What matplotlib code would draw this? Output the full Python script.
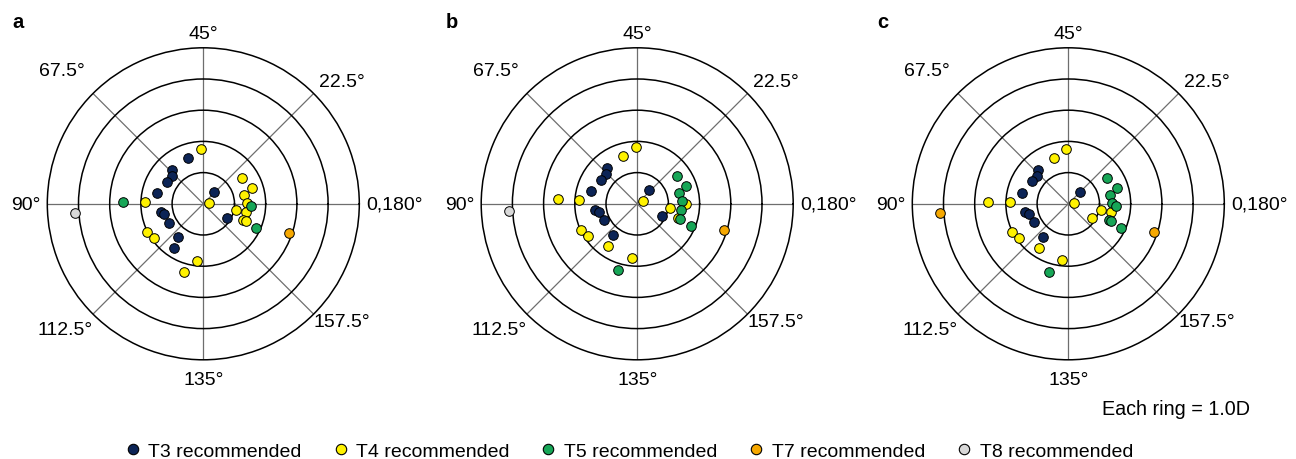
import numpy as np
import matplotlib
matplotlib.use("Agg")
import matplotlib.pyplot as plt
from matplotlib.lines import Line2D

plt.rcParams['font.family'] = ['Liberation Sans', 'DejaVu Sans']

# astigmatism vectors on the double-angle plot, (x, y) components in D
# panel a
a_t3 = [(-0.48, 1.46), (-1.00, 1.08), (-1.01, 0.88), (-1.16, 0.71), (-1.49, 0.36),
        (-1.37, -0.26), (-1.26, -0.32), (-1.09, -0.60), (-0.81, -1.05), (-0.95, -1.42),
        (0.35, 0.38), (0.77, -0.47)]
a_t4 = [(-0.06, 1.76), (-1.87, 0.05), (-1.82, -0.90), (-1.59, -1.09), (-0.19, -1.82),
        (-0.62, -2.20), (0.19, 0.02), (1.23, 0.83), (1.56, 0.50), (1.32, 0.27),
        (1.41, 0.04), (1.05, -0.20), (1.37, -0.26), (1.28, -0.52), (1.36, -0.56)]
a_t5 = [(-2.57, 0.06), (1.53, -0.07), (1.70, -0.77)]
a_t7 = [(2.76, -0.92)]
a_t8 = [(-4.11, -0.31)]

# panel b
b_t3 = [(-0.97, 1.16), (-0.99, 0.96), (-1.15, 0.77), (-1.47, 0.42), (-1.36, -0.19),
        (-1.24, -0.26), (-1.08, -0.53), (-0.79, -0.99), (0.38, 0.44), (0.79, -0.40)]
b_t4 = [(-0.05, 1.82), (-0.46, 1.53), (-2.55, 0.14), (-1.85, 0.11), (-1.80, -0.83),
        (-1.58, -1.02), (-0.93, -1.35), (-0.17, -1.74), (0.19, 0.08), (1.06, -0.13),
        (1.57, -0.01), (1.30, -0.47)]
b_t5 = [(1.26, 0.89), (1.58, 0.56), (1.34, 0.34), (1.42, 0.10), (1.39, -0.19),
        (1.38, -0.50), (1.71, -0.71), (-0.61, -2.13)]
b_t7 = [(2.77, -0.84)]
b_t8 = [(-4.10, -0.24)]

# panel c
c_t3 = [(-0.98, 1.09), (-1.01, 0.89), (-1.16, 0.72), (-1.48, 0.36), (-1.38, -0.25),
        (-1.25, -0.32), (-1.10, -0.59), (-0.81, -1.06), (0.37, 0.39)]
c_t4 = [(-0.06, 1.76), (-0.47, 1.46), (-2.57, 0.07), (-1.86, 0.05), (-1.82, -0.90),
        (-1.58, -1.09), (-0.94, -1.41), (-0.19, -1.81), (0.17, 0.03), (0.76, -0.46),
        (1.05, -0.20), (1.38, -0.25)]
c_t5 = [(1.25, 0.84), (1.57, 0.50), (1.33, 0.28), (1.41, 0.04), (1.54, -0.06),
        (1.30, -0.51), (1.37, -0.56), (1.70, -0.77), (-0.61, -2.20)]
c_t7 = [(-4.12, -0.31), (2.76, -0.91)]
c_t8 = []

groups = ['T3 recommended', 'T4 recommended', 'T5 recommended',
          'T7 recommended', 'T8 recommended']
colors = ['#0c2456', '#fff200', '#17a657', '#f6a800', '#d8d8d8']
axis_labels = ['0,180°', '22.5°', '45°', '67.5°', '90°', '112.5°', '135°', '157.5°']
panels = [('a', [a_t3, a_t4, a_t5, a_t7, a_t8]),
          ('b', [b_t3, b_t4, b_t5, b_t7, b_t8]),
          ('c', [c_t3, c_t4, c_t5, c_t7, c_t8])]

W, H = 1296, 460
fig = plt.figure(figsize=(W / 100, H / 100), dpi=100)

centers_x = [203.3, 637.2, 1068.3]
center_y = 204.8
R = 156.0
# label centre offsets in pixels from the plot centre
lab_off = [(191, 0), (139, 122), (0, 170), (-141, 133),
           (-177, -1), (-138, -126), (0, -176), (139, -118)]

for (letter, data), cx in zip(panels, centers_x):
    ax = fig.add_axes([(cx - R) / W, (H - center_y - R) / H, 2 * R / W, 2 * R / H],
                      projection='polar')
    ax.set_ylim(0, 5)
    ax.set_xticks(np.deg2rad(np.arange(0, 360, 45)))
    ax.set_xticklabels([])
    ax.set_yticks([1, 2, 3, 4])
    ax.set_yticklabels([])
    ax.xaxis.grid(True, color='#6e6e6e', lw=0.9)
    ax.yaxis.grid(True, color='black', lw=1.1)
    ax.spines['polar'].set_color('black')
    ax.spines['polar'].set_linewidth(1.1)
    ax.tick_params(length=0)

    for pts, col in zip(data, colors):
        if not pts:
            continue
        xy = np.array(pts)
        theta = np.arctan2(xy[:, 1], xy[:, 0])
        r = np.hypot(xy[:, 0], xy[:, 1])
        ax.scatter(theta, r, s=48, c=col, edgecolors='black', linewidths=0.7,
                   zorder=3, clip_on=False)

    for lab, (dx, dy) in zip(axis_labels, lab_off):
        ax.annotate(lab, xy=(0, 0), xytext=(dx, dy), textcoords='offset pixels',
                    ha='center', va='center', fontsize=14, annotation_clip=False)

    fig.text((cx - 185) / W, 1 - 23 / H, letter, fontsize=14.5, fontweight='bold',
             ha='center', va='center')

fig.text(1250 / W, 1 - 410 / H, 'Each ring = 1.0D', fontsize=14.2,
         ha='right', va='center')

handles = [Line2D([], [], ls='none', marker='o', markersize=7.5, markerfacecolor=c,
                  markeredgecolor='black', markeredgewidth=0.8) for c in colors]
fig.legend(handles, groups, loc='center', bbox_to_anchor=(629 / W, 1 - 452 / H),
           ncol=5, frameon=False, fontsize=14, handlelength=0.8,
           handletextpad=0.4, columnspacing=1.6, borderaxespad=0)

fig.savefig('out.png', dpi=100)
